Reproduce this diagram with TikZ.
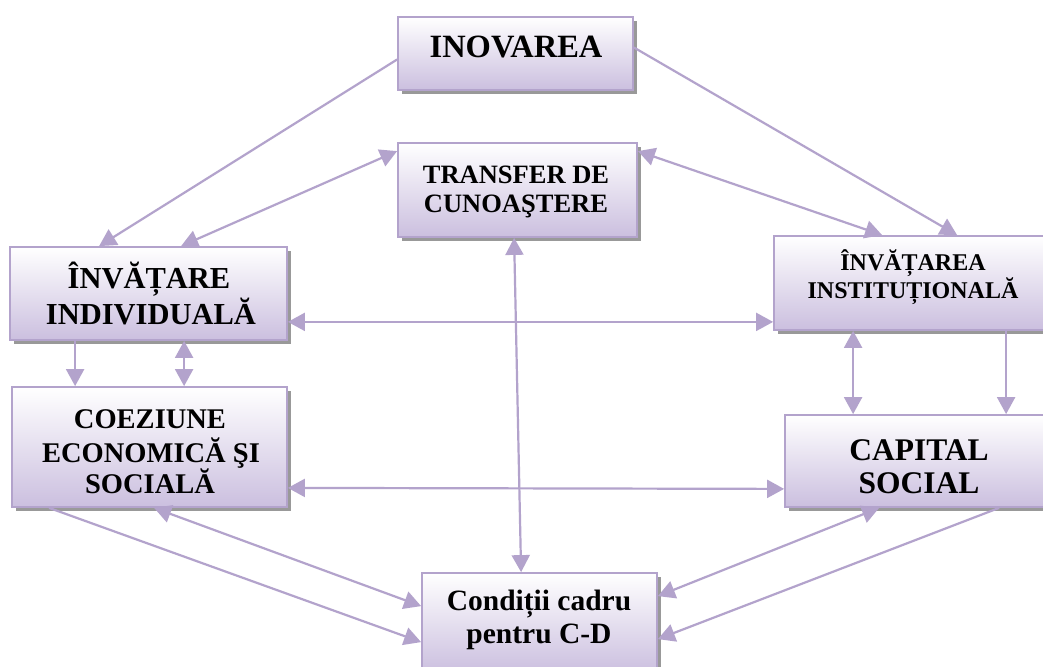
\documentclass[tikz,border=0pt]{standalone}
\usepackage{fontspec}
\setmainfont{Liberation Serif}
\usetikzlibrary{arrows.meta,shadows,calc}
\definecolor{lav}{HTML}{B3A3CC}
\definecolor{lavbot}{HTML}{CBBFDF}
\newcommand\fsz[1]{\fontsize{#1}{#1}\selectfont\bfseries}
\tikzset{
  box/.style={draw=lav, line width=1.8pt, top color=white, bottom color=lavbot,
    inner sep=0pt, minimum width=#1,
    drop shadow={shadow xshift=4pt, shadow yshift=-4pt, fill=black!40, opacity=1}},
  txt/.style={inner sep=0pt, anchor=base},
  conn/.style={draw=lav, line width=2.2pt},
  tip/.tip={Triangle[length=17pt,width=18pt]},
  one/.style={conn, -tip},
  two/.style={conn, tip-tip}
}
\begin{document}
\begin{tikzpicture}[x=1pt,y=-1pt]
\useasboundingbox (0,0) rectangle (1043,666);
\clip (0,0) rectangle (1043,666);
\fill[white] (0,0) rectangle (1043,666);
% boxes
\node[box=235pt, minimum height=73pt] (inov) at (515.5,53.5) {};
\node[box=239pt, minimum height=94pt] (trans) at (517.5,190) {};
\node[box=277pt, minimum height=93pt] (indiv) at (148.5,293.5) {};
\node[box=276pt, minimum height=94pt] (inst) at (912,283) {};
\node[box=275pt, minimum height=120pt] (coez) at (149.5,447) {};
\node[box=265pt, minimum height=92pt] (cap) at (917.5,461) {};
\node[box=235pt, minimum height=100pt] (cond) at (539.5,623) {};
% texts
\node[txt, font=\fsz{32.5}] (t1) at (516,58) {INOVAREA};
\node[txt, font=\fsz{26.5}] (t2a) at (516,183) {TRANSFER DE};
\node[txt, font=\fsz{26.5}] (t2b) at (516,212) {CUNOAŞTERE};
\node[txt, font=\fsz{30.5}] (t3a) at (149,288) {ÎNVĂȚARE};
\node[txt, font=\fsz{30.5}] (t3b) at (151,324) {INDIVIDUALĂ};
\node[txt, font=\fsz{24}] (t4a) at (913,270) {ÎNVĂȚAREA};
\node[txt, font=\fsz{24}] (t4b) at (913,298) {INSTITUȚIONALĂ};
\node[txt, font=\fsz{28.5}] (t5a) at (150,428) {COEZIUNE};
\node[txt, font=\fsz{28.5}] (t5b) at (151,462) {ECONOMICĂ ŞI};
\node[txt, font=\fsz{28.5}] (t5c) at (150,493) {SOCIALĂ};
\node[txt, font=\fsz{31.5}] (t6a) at (919,460) {CAPITAL};
\node[txt, font=\fsz{31.5}] (t6b) at (919,493) {SOCIAL};
\node[txt, font=\fsz{29.5}] (t7a) at (539,610) {Condiții cadru};
\node[txt, font=\fsz{29.5}] (t7b) at (539,643) {pentru C-D};
% connectors
\draw[one] ($(inov.west)+(0,6)$) -- ($(indiv.north west)+(90,0)$);
\draw[two] ($(trans.north west)+(0,9)$) -- ($(indiv.north west)+(172,0)$);
\draw[one] ($(inov.east)+(0,-6)$) -- ($(inst.north west)+(184,0)$);
\draw[two] ($(trans.north east)+(0,9)$) -- ($(inst.north west)+(109,0)$);
\draw[two] ($(indiv.south east)+(0,-19)$) -- ($(inst.south west)+(0,-9)$);
\draw[two] ($(trans.south west)+(117,0)$) -- ($(cond.north west)+(100,0)$);
\draw[two] ($(coez.south east)+(0,-20)$) -- ($(cap.south west)+(0,-19)$);
\draw[one] ($(indiv.south west)+(66,0)$) -- ($(coez.north west)+(64,0)$);
\draw[two] ($(indiv.south west)+(175,0)$) -- ($(coez.north west)+(173,0)$);
\draw[two] ($(inst.south west)+(80,0)$) -- ($(cap.north west)+(69,0)$);
\draw[one] ($(inst.south west)+(233,0)$) -- ($(cap.north west)+(222,0)$);
\draw[one] ($(coez.south west)+(38,0)$) -- ($(cond.north west)+(0,70)$);
\draw[two] ($(coez.south west)+(143,0)$) -- ($(cond.north west)+(0,34)$);
\draw[two] ($(cap.south west)+(95,0)$) -- ($(cond.north east)+(0,24)$);
\draw[one] ($(cap.south west)+(215,0)$) -- ($(cond.north east)+(0,67)$);
\end{tikzpicture}
\end{document}
